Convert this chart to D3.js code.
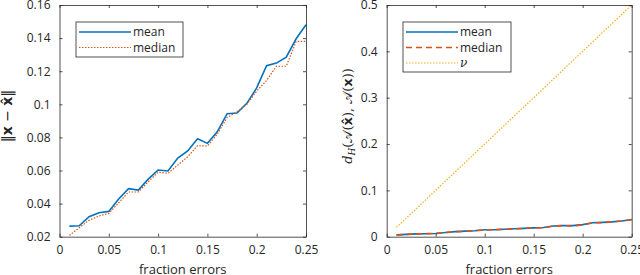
<!DOCTYPE html>
<html>
<head>
<meta charset="utf-8">
<script src="https://cdn.jsdelivr.net/npm/d3@7"></script>
<style>
  body { margin: 0; background: #fff; }
  svg { display: block; font-family: 'Open Sans', 'Noto Sans', sans-serif; }
  .tick text { fill: #262626; }
</style>
</head>
<body>
<svg id="chart" width="640" height="275"></svg>
<script>
// fraction of errors (x axis), shared by both panels
var fractions = [0.01, 0.02, 0.03, 0.04, 0.05, 0.06, 0.07, 0.08, 0.09, 0.10,
  0.11, 0.12, 0.13, 0.14, 0.15, 0.16, 0.17, 0.18, 0.19, 0.20,
  0.21, 0.22, 0.23, 0.24, 0.25]

// left panel: ||x - x^||
var errMean = [0.0264, 0.0266, 0.0321, 0.0345, 0.0353, 0.0428, 0.049, 0.0482, 0.0548, 0.0603,
  0.0597, 0.0675, 0.0718, 0.0792, 0.0764, 0.0834, 0.0943, 0.0947, 0.1006, 0.1099,
  0.1233, 0.1249, 0.1285, 0.1396, 0.1481]
var errMedian = [0.0208, 0.0254, 0.030, 0.0325, 0.0341, 0.0405, 0.047, 0.047, 0.0532, 0.059,
  0.0583, 0.0633, 0.0683, 0.075, 0.0748, 0.082, 0.092, 0.0955, 0.100, 0.108,
  0.1144, 0.123, 0.123, 0.138, 0.138]

// right panel: d_H(A(x^), A(x))
var dhMean = [0.004, 0.005, 0.006, 0.0065, 0.007, 0.009, 0.011, 0.012, 0.013, 0.015,
  0.015, 0.016, 0.017, 0.018, 0.019, 0.020, 0.023, 0.024, 0.024, 0.026,
  0.030, 0.031, 0.032, 0.034, 0.037]
var dhMedian = [0.0035, 0.005, 0.006, 0.0065, 0.007, 0.009, 0.011, 0.0115, 0.013, 0.0145,
  0.015, 0.016, 0.017, 0.018, 0.019, 0.0195, 0.023, 0.024, 0.023, 0.0255,
  0.030, 0.030, 0.032, 0.034, 0.0365]
var nu = [0.02, 0.04, 0.06, 0.08, 0.10, 0.12, 0.14, 0.16, 0.18, 0.20,
  0.22, 0.24, 0.26, 0.28, 0.30, 0.32, 0.34, 0.36, 0.38, 0.40,
  0.42, 0.44, 0.46, 0.48, 0.50]

var xTicks = [0, 0.05, 0.1, 0.15, 0.2, 0.25]
var leftYTicks = [0.02, 0.04, 0.06, 0.08, 0.1, 0.12, 0.14, 0.16]
var rightYTicks = [0, 0.1, 0.2, 0.3, 0.4, 0.5]

var COLORS = { blue: '#0072BD', orange: '#D95319', yellow: '#EDB120', axis: '#262626' }

var svg = d3.select('#chart')

function fmt(d) {
  return d === 0 ? '0' : String(+d.toFixed(2))
}

function drawPanel(opts) {
  var g = svg.append('g')
  var x = d3.scaleLinear().domain([0, 0.25]).range([opts.left, opts.right])
  var y = d3.scaleLinear().domain(opts.yDomain).range([opts.bottom, opts.top])
  var tl = 3

  // series lines
  opts.series.forEach(function(s) {
    var line = d3.line()
      .x(function(d, i) { return x(fractions[i]) })
      .y(function(d) { return y(d) })
    g.append('path')
      .datum(s.values)
      .attr('fill', 'none')
      .attr('stroke', s.color)
      .attr('stroke-width', s.width)
      .attr('stroke-dasharray', s.dash)
      .attr('d', line)
  })

  // axes, MATLAB style: inward ticks all round
  var bottomAxis = d3.axisBottom(x).tickValues(xTicks).tickFormat(fmt)
    .tickSizeInner(-tl).tickSizeOuter(0).tickPadding(9)
  var topAxis = d3.axisTop(x).tickValues(xTicks).tickFormat('')
    .tickSizeInner(-tl).tickSizeOuter(0)
  var leftAxis = d3.axisLeft(y).tickValues(opts.yTicks).tickFormat(fmt)
    .tickSizeInner(-tl).tickSizeOuter(0).tickPadding(9)
  var rightAxis = d3.axisRight(y).tickValues(opts.yTicks).tickFormat('')
    .tickSizeInner(-tl).tickSizeOuter(0)

  var axes = [
    [bottomAxis, 'translate(0,' + opts.bottom + ')'],
    [topAxis, 'translate(0,' + opts.top + ')'],
    [leftAxis, 'translate(' + opts.left + ',0)'],
    [rightAxis, 'translate(' + opts.right + ',0)']
  ]
  axes.forEach(function(a) {
    var ag = g.append('g').attr('transform', a[1]).call(a[0])
    ag.selectAll('.domain').attr('stroke', COLORS.axis).attr('stroke-width', 0.8)
    ag.selectAll('.tick line').attr('stroke', COLORS.axis).attr('stroke-width', 0.8)
    ag.selectAll('.tick text').attr('font-size', 12).attr('font-family', "'Open Sans', sans-serif")
  })

  // x label
  g.append('text')
    .attr('x', (opts.left + opts.right) / 2)
    .attr('y', 274)
    .attr('text-anchor', 'middle')
    .attr('font-size', 13)
    .attr('fill', COLORS.axis)
    .text('fraction errors')

  // legend
  var lg = g.append('g')
  lg.append('rect')
    .attr('x', opts.legend.x)
    .attr('y', opts.legend.y)
    .attr('width', opts.legend.w)
    .attr('height', opts.legend.h)
    .attr('fill', '#fff')
    .attr('stroke', COLORS.axis)
    .attr('stroke-width', 0.8)
  opts.series.forEach(function(s, i) {
    var ry = opts.legend.y + 10 + i * 15.5
    lg.append('line')
      .attr('x1', opts.legend.x + 3)
      .attr('x2', opts.legend.x + 55)
      .attr('y1', ry)
      .attr('y2', ry)
      .attr('stroke', s.color)
      .attr('stroke-width', s.width)
      .attr('stroke-dasharray', s.dash)
    lg.append('text')
      .attr('x', opts.legend.x + 57)
      .attr('y', ry + 4)
      .attr('font-size', 12)
      .attr('font-style', s.italic ? 'italic' : null)
      .attr('font-family', s.italic ? "'DejaVu Serif', serif" : null)
      .attr('fill', COLORS.axis)
      .text(s.name)
  })
  return g
}

drawPanel({
  left: 59.5, right: 306, top: 5, bottom: 236.7,
  yDomain: [0.02, 0.16], yTicks: leftYTicks,
  series: [
    { name: 'mean', values: errMean, color: COLORS.blue, width: 1.6, dash: null },
    { name: 'median', values: errMedian, color: COLORS.orange, width: 1.2, dash: '1.5,1.5' }
  ],
  legend: { x: 76, y: 22, w: 107, h: 35 }
})

drawPanel({
  left: 386.7, right: 631.7, top: 5, bottom: 236.7,
  yDomain: [0, 0.5], yTicks: rightYTicks,
  series: [
    { name: 'mean', values: dhMean, color: COLORS.blue, width: 1.6, dash: null },
    { name: 'median', values: dhMedian, color: COLORS.orange, width: 1.6, dash: '6,4' },
    { name: 'ν', values: nu, color: COLORS.yellow, width: 1.2, dash: '1.5,1.5', italic: true }
  ],
  legend: { x: 403, y: 22, w: 108, h: 50 }
})

// y labels
var yl1 = svg.append('text')
  .attr('transform', 'translate(12,116) rotate(-90)')
  .attr('text-anchor', 'middle')
  .attr('font-size', 14)
  .attr('fill', COLORS.axis)
  .attr('font-family', "'DejaVu Sans', sans-serif")
yl1.append('tspan').text('\u2016')
yl1.append('tspan').attr('font-weight', 'bold').text('x')
yl1.append('tspan').text(' \u2212 ')
yl1.append('tspan').attr('font-weight', 'bold').text('x\u0302')
yl1.append('tspan').text('\u2016')

var yl2 = svg.append('text')
  .attr('transform', 'translate(352,116) rotate(-90)')
  .attr('text-anchor', 'middle')
  .attr('font-size', 13)
  .attr('fill', COLORS.axis)
  .attr('font-family', "'DejaVu Serif', serif")
yl2.append('tspan').attr('font-style', 'italic').text('d')
yl2.append('tspan').attr('font-style', 'italic').attr('font-size', 9).attr('dy', 3).text('H')
yl2.append('tspan').attr('dy', -3).text('(\uD835\uDC9C(')
yl2.append('tspan').attr('font-weight', 'bold').attr('font-family', "'DejaVu Sans', sans-serif").text('x\u0302')
yl2.append('tspan').text('), \uD835\uDC9C(')
yl2.append('tspan').attr('font-weight', 'bold').attr('font-family', "'DejaVu Sans', sans-serif").text('x')
yl2.append('tspan').text('))')
</script>
</body>
</html>
